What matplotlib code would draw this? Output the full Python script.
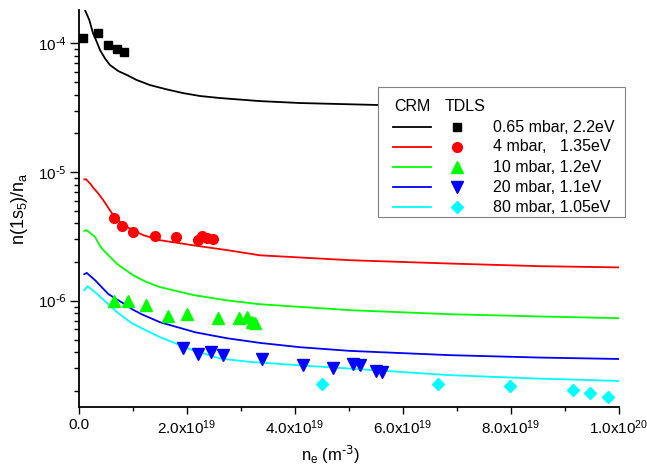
import matplotlib
matplotlib.use("Agg")
import matplotlib.pyplot as plt
import numpy as np
from matplotlib.lines import Line2D
from matplotlib.patches import Rectangle
from matplotlib.ticker import MultipleLocator, FuncFormatter

plt.rcParams['font.family'] = ['Liberation Sans', 'DejaVu Sans']
plt.rcParams['mathtext.default'] = 'regular'

# electron density in units of 1e18 m^-3, densities n(1s5)/na
# CRM model curves
crm_black_x = np.array([0.93, 1.11, 1.91, 2.59, 3.28, 3.89, 4.81, 5.74, 7.28, 8.89, 10.69, 13.15, 16.24,
                        19.26, 22.4, 26.11, 33.5, 40.9, 55.4, 78.0, 100.0])
crm_black_y = np.array([2.10e-4, 1.81e-4, 1.517e-4, 1.20e-4, 1.029e-4, 8.87e-5, 7.64e-5, 6.78e-5, 6.09e-5,
                        5.67e-5, 5.19e-5, 4.74e-5, 4.39e-5, 4.11e-5, 3.90e-5, 3.76e-5, 3.56e-5, 3.44e-5,
                        3.32e-5, 3.20e-5, 3.14e-5])

crm_red_x = np.array([0.98, 1.30, 2.04, 2.65, 3.57, 4.50, 5.43, 6.35, 7.59, 8.83, 10.37, 11.9, 15.0, 21.2,
                      27.4, 33.5, 50.2, 68.7, 85.4, 100.0])
crm_red_y = np.array([8.78e-6, 8.80e-6, 8.18e-6, 7.55e-6, 6.83e-6, 6.05e-6, 5.28e-6, 4.62e-6, 4.11e-6,
                      3.76e-6, 3.48e-6, 3.24e-6, 2.96e-6, 2.70e-6, 2.48e-6, 2.26e-6, 2.07e-6, 1.95e-6,
                      1.86e-6, 1.82e-6])

crm_green_x = np.array([0.98, 1.43, 2.96, 3.89, 4.50, 5.74, 6.98, 8.52, 10.06, 12.35, 15.0, 21.2, 27.4,
                        33.5, 50.2, 68.7, 85.4, 100.0])
crm_green_y = np.array([3.50e-6, 3.54e-6, 3.14e-6, 2.67e-6, 2.48e-6, 2.20e-6, 1.95e-6, 1.75e-6, 1.58e-6,
                        1.41e-6, 1.28e-6, 1.11e-6, 1.01e-6, 9.42e-7, 8.47e-7, 7.88e-7, 7.57e-7, 7.34e-7])

crm_blue_x = np.array([0.98, 1.43, 2.96, 4.20, 5.43, 8.15, 9.81, 11.6, 15.0, 21.5, 27.4, 33.5, 40.9, 50.2,
                       68.7, 85.4, 100.0])
crm_blue_y = np.array([1.61e-6, 1.65e-6, 1.45e-6, 1.28e-6, 1.13e-6, 9.60e-7, 8.63e-7, 7.88e-7, 6.83e-7,
                       5.71e-7, 5.13e-7, 4.72e-7, 4.37e-7, 4.09e-7, 3.79e-7, 3.63e-7, 3.54e-7])

crm_cyan_x = np.array([0.98, 1.61, 2.96, 4.20, 5.43, 6.98, 8.52, 9.81, 11.6, 15.0, 21.1, 26.1, 31.7, 40.9,
                       50.2, 68.7, 85.4, 100.0])
crm_cyan_y = np.array([1.21e-6, 1.30e-6, 1.17e-6, 1.05e-6, 9.42e-7, 8.22e-7, 7.34e-7, 6.71e-7, 6.14e-7,
                       5.23e-7, 4.14e-7, 3.57e-7, 3.36e-7, 3.16e-7, 2.98e-7, 2.65e-7, 2.49e-7, 2.39e-7])

# TDLS measurements
tdls_black_x = np.array([0.80, 3.57, 5.43, 6.98, 8.39])
tdls_black_y = np.array([1.094e-4, 1.196e-4, 9.70e-5, 8.98e-5, 8.61e-5])

tdls_red_x = np.array([6.54, 8.02, 10.06, 14.07, 17.96, 22.09, 22.72, 23.65, 24.87])
tdls_red_y = np.array([4.37e-6, 3.80e-6, 3.40e-6, 3.18e-6, 3.14e-6, 2.96e-6, 3.18e-6, 3.09e-6, 3.02e-6])

tdls_green_x = np.array([6.54, 9.02, 12.37, 16.39, 19.94, 25.8, 29.7, 31.06, 31.98, 32.6])
tdls_green_y = np.array([1.00e-6, 1.00e-6, 9.26e-7, 7.64e-7, 7.88e-7, 7.30e-7, 7.43e-7, 7.51e-7, 6.80e-7, 6.71e-7])

tdls_blue_x = np.array([19.31, 21.98, 24.44, 26.72, 33.83, 41.54, 47.09, 50.8, 52.04, 55.0, 56.06])
tdls_blue_y = np.array([4.27e-7, 3.84e-7, 4.02e-7, 3.79e-7, 3.57e-7, 3.16e-7, 3.01e-7, 3.26e-7, 3.16e-7,
                        2.84e-7, 2.78e-7])

tdls_cyan_x = np.array([44.94, 66.54, 79.8, 91.4, 94.7, 98.0])
tdls_cyan_y = np.array([2.25e-7, 2.25e-7, 2.17e-7, 2.05e-7, 1.92e-7, 1.80e-7])

labels = ["0.65 mbar, 2.2eV", "4 mbar,   1.35eV", "10 mbar, 1.2eV", "20 mbar, 1.1eV", "80 mbar, 1.05eV"]
colors = ["#000000", "#ff0000", "#00ff00", "#0000ff", "#00ffff"]
markers = ["s", "o", "^", "v", "D"]
msizes = [6.0, 7.0, 8.5, 8.5, 6.2]

crm = [(crm_black_x, crm_black_y), (crm_red_x, crm_red_y), (crm_green_x, crm_green_y),
       (crm_blue_x, crm_blue_y), (crm_cyan_x, crm_cyan_y)]
tdls = [(tdls_black_x, tdls_black_y), (tdls_red_x, tdls_red_y), (tdls_green_x, tdls_green_y),
        (tdls_blue_x, tdls_blue_y), (tdls_cyan_x, tdls_cyan_y)]

W, H = 647, 472
fig = plt.figure(figsize=(W / 100, H / 100), dpi=100)
ax = fig.add_axes([79 / W, 1 - 407 / H, 540 / W, 397 / H])

for (cx, cy), (mx, my), c, m, ms in zip(crm, tdls, colors, markers, msizes):
    ax.plot(cx * 1e18, cy, color=c, lw=1.3, zorder=2)
    ax.plot(mx * 1e18, my, ls="none", marker=m, ms=ms, color=c, mec=c, zorder=3)

ax.set_yscale("log")
ax.set_xlim(0, 1e20)
ax.set_ylim(1.5e-7, 1.815e-4)

for side in ["top", "right"]:
    ax.spines[side].set_visible(False)
for side in ["left", "bottom"]:
    ax.spines[side].set_linewidth(1.3)

ax.xaxis.set_major_locator(MultipleLocator(2e19))
ax.xaxis.set_minor_locator(MultipleLocator(1e19))


def sci(v, pos):
    if abs(v) < 1:
        return "0.0"
    if v < 0:
        return ""
    e = int(np.floor(np.log10(v) + 1e-9))
    return "%.1fx10$^{%d}$" % (v / 10 ** e, e)


def decade(v, pos):
    e = int(round(np.log10(v)))
    return r"10$^{\text{-%d}}$" % -e if e < 0 else "10$^{%d}$" % e


ax.xaxis.set_major_formatter(FuncFormatter(sci))
ax.yaxis.set_major_formatter(FuncFormatter(decade))
ax.tick_params(axis="x", which="major", direction="out", length=5, width=1.0, labelsize=11, pad=3)
ax.tick_params(axis="x", which="minor", direction="out", length=3, width=1.0)
ax.tick_params(axis="y", which="major", direction="out", length=6.5, width=1.0, labelsize=11, pad=2)
ax.tick_params(axis="y", which="minor", direction="out", length=3.6, width=1.0, labelleft=False)

ax.set_xlabel(r"n$_e$ (m$^{\text{-3}}$)", fontsize=12)
ax.xaxis.set_label_coords(0.465, -0.093)
ax.set_ylabel("n(1s$_5$)/n$_a$", fontsize=13)
ax.yaxis.set_label_coords(-0.09, 0.5)


# legend box, drawn in figure pixel coordinates
def fx(x):
    return x / W


def fy(y):
    return 1 - y / H


fig.add_artist(Rectangle((fx(378), fy(217)), (625 - 378) / W, (217 - 87) / H,
                         transform=fig.transFigure, fc="white", ec="#808080", lw=0.8, zorder=5))
fig.text(fx(412), fy(106), "CRM", ha="center", va="center", fontsize=11.5, zorder=6)
fig.text(fx(465), fy(106), "TDLS", ha="center", va="center", fontsize=11.5, zorder=6)
rows = [127.3, 146.9, 167.2, 187.4, 207.4]
for r, lab, c, m, ms in zip(rows, labels, colors, markers, msizes):
    fig.add_artist(Line2D([fx(393), fx(431)], [fy(r), fy(r)], color=c, lw=1.3,
                          transform=fig.transFigure, zorder=6))
    fig.add_artist(Line2D([fx(457)], [fy(r)], ls="none", marker=m, ms=ms, color=c, mec=c,
                          transform=fig.transFigure, zorder=6))
    fig.text(fx(493), fy(r), lab, ha="left", va="center", fontsize=11.5, zorder=6)

fig.savefig("out.png", dpi=100)
